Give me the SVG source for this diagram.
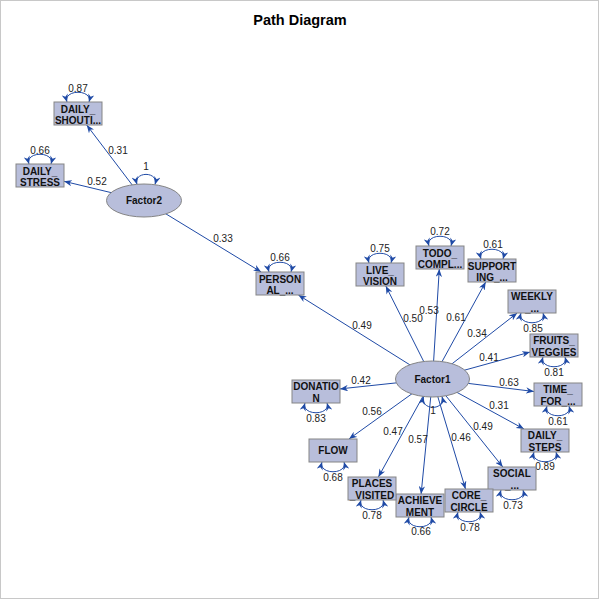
<svg xmlns="http://www.w3.org/2000/svg" width="600" height="600" viewBox="0 0 600 600">
<style>
.bg{fill:#fff;stroke:#c8c8c8;stroke-width:1}
.box{fill:#b8bedb;stroke:#858585;stroke-width:1}
.ell{fill:#b8bedb;stroke:#858585;stroke-width:1}
.nt{font-family:"Liberation Sans",Arial,sans-serif;font-size:10px;font-weight:bold;fill:#111;text-anchor:middle}
.el{font-family:"Liberation Sans",Arial,sans-serif;font-size:10px;fill:#222;text-anchor:middle}
.edge{fill:none;stroke:#1f4aa6;stroke-width:1;marker-end:url(#ah)}
.loop{fill:none;stroke:#1f4aa6;stroke-width:1;marker-start:url(#ah);marker-end:url(#ah)}
.title{font-family:"Liberation Sans",Arial,sans-serif;font-size:14.5px;font-weight:bold;fill:#000;text-anchor:middle}
</style>
<defs>
<marker id="ah" viewBox="0 0 10 8" refX="10" refY="4" markerWidth="8" markerHeight="6.4" markerUnits="userSpaceOnUse" orient="auto-start-reverse">
<path d="M0,0 L10,4 L0,8 L3,4 z" fill="#1f4aa6"/>
</marker>
</defs>
<rect class="bg" x="0.5" y="0.5" width="598" height="598"/>
<text class="title" x="300" y="25">Path Diagram</text>

<g id="connectors">
<path class="edge" d="M432.5,379 L298.4,295"/>
<path class="edge" d="M432.5,379 L385.8,286"/>
<path class="edge" d="M432.5,379 L439.3,269"/>
<path class="edge" d="M432.5,379 L485.7,282"/>
<path class="edge" d="M432.5,379 L517.2,313"/>
<path class="edge" d="M432.5,379 L530,352.1"/>
<path class="edge" d="M432.5,379 L534,391.5"/>
<path class="edge" d="M432.5,379 L524,429"/>
<path class="edge" d="M432.5,379 L502.8,467"/>
<path class="edge" d="M432.5,379 L465.5,489"/>
<path class="edge" d="M432.5,379 L421.1,494"/>
<path class="edge" d="M432.5,379 L378.4,477"/>
<path class="edge" d="M432.5,379 L349,439"/>
<path class="edge" d="M432.5,379 L340,388.9"/>
<path class="edge" d="M144,200.5 L86.7,125"/>
<path class="edge" d="M144,200.5 L64,181.3"/>
<path class="edge" d="M144,200.5 L261.2,272"/>

<path class="loop" d="M137,184.5 C133,171 159,171 155,184.5"/>
<path class="loop" d="M423.5,396.5 C420,411 446,411 442,396.5"/>

<path class="loop" d="M67,102 C63,89 93,89 89,102"/>
<path class="loop" d="M29,164 C25,151 55,151 51,164"/>
<path class="loop" d="M269,272 C265,259 295,259 291,272"/>
<path class="loop" d="M369,263 C365,250 395,250 391,263"/>
<path class="loop" d="M429,246 C425,233 455,233 451,246"/>
<path class="loop" d="M481,259 C477,246 507,246 503,259"/>
<path class="loop" d="M521,313 C517,326 547,326 543,313"/>
<path class="loop" d="M543,357 C539,370 569,370 565,357"/>
<path class="loop" d="M547,406 C543,419 573,419 569,406"/>
<path class="loop" d="M534,452 C530,465 560,465 556,452"/>
<path class="loop" d="M501,490 C497,503 527,503 523,490"/>
<path class="loop" d="M458,512 C454,525 484,525 480,512"/>
<path class="loop" d="M409,517 C405,530 435,530 431,517"/>
<path class="loop" d="M361,500 C357,513 387,513 383,500"/>
<path class="loop" d="M322,462 C318,475 348,475 344,462"/>
<path class="loop" d="M305,403 C301,416 331,416 327,403"/>

<text class="el" x="118" y="153.5">0.31</text>
<text class="el" x="97" y="184.5">0.52</text>
<text class="el" x="223" y="241.5">0.33</text>
<text class="el" x="362" y="329">0.49</text>
<text class="el" x="413" y="322">0.50</text>
<text class="el" x="429" y="313.5">0.53</text>
<text class="el" x="456" y="321">0.61</text>
<text class="el" x="477" y="337">0.34</text>
<text class="el" x="489" y="360.5">0.41</text>
<text class="el" x="361" y="384">0.42</text>
<text class="el" x="509" y="386">0.63</text>
<text class="el" x="499" y="408.5">0.31</text>
<text class="el" x="372" y="415">0.56</text>
<text class="el" x="393" y="435">0.47</text>
<text class="el" x="418" y="443">0.57</text>
<text class="el" x="461" y="441">0.46</text>
<text class="el" x="483" y="430">0.49</text>

<text class="el" x="146" y="170">1</text>
<text class="el" x="433" y="414">1</text>
<text class="el" x="78" y="91.5">0.87</text>
<text class="el" x="40" y="153.5">0.66</text>
<text class="el" x="280" y="261">0.66</text>
<text class="el" x="380" y="252">0.75</text>
<text class="el" x="440" y="234.5">0.72</text>
<text class="el" x="493" y="248">0.61</text>
<text class="el" x="533" y="331.5">0.85</text>
<text class="el" x="554" y="375.5">0.81</text>
<text class="el" x="558" y="424.5">0.61</text>
<text class="el" x="545" y="470">0.89</text>
<text class="el" x="513" y="509">0.73</text>
<text class="el" x="470" y="531">0.78</text>
<text class="el" x="421" y="535">0.66</text>
<text class="el" x="372" y="518.5">0.78</text>
<text class="el" x="333" y="481">0.68</text>
<text class="el" x="316" y="422">0.83</text>
</g>

<g id="Factor2">
<ellipse class="ell" cx="144" cy="200.5" rx="37.5" ry="16.5"/>
<text class="nt" x="144" y="204">Factor2</text>
</g>
<g id="Factor1">
<ellipse class="ell" cx="432.5" cy="379" rx="37" ry="18"/>
<text class="nt" x="432.5" y="382.5">Factor1</text>
</g>

<g id="DAILY_SHOUTING">
<rect class="box" x="54" y="102" width="48" height="23"/>
<text class="nt" x="78" y="112.5">DAILY_</text>
<text class="nt" x="78" y="124">SHOUTI...</text>
</g>
<g id="DAILY_STRESS">
<rect class="box" x="16" y="164" width="48" height="23"/>
<text class="nt" x="40" y="174.5">DAILY_</text>
<text class="nt" x="40" y="186">STRESS</text>
</g>
<g id="PERSONAL">
<rect class="box" x="256" y="272" width="48" height="23"/>
<text class="nt" x="280" y="282.5">PERSON</text>
<text class="nt" x="280" y="294">AL_...</text>
</g>
<g id="LIVE_VISION">
<rect class="box" x="356" y="263" width="48" height="23"/>
<text class="nt" x="380" y="273.5">LIVE_</text>
<text class="nt" x="380" y="285">VISION</text>
</g>
<g id="TODO_COMPL">
<rect class="box" x="416" y="246" width="48" height="23"/>
<text class="nt" x="440" y="256.5">TODO_</text>
<text class="nt" x="440" y="268">COMPL...</text>
</g>
<g id="SUPPORTING">
<rect class="box" x="468" y="259" width="48" height="23"/>
<text class="nt" x="492" y="269.5">SUPPORT</text>
<text class="nt" x="492" y="281">ING_...</text>
</g>
<g id="WEEKLY">
<rect class="box" x="508" y="290" width="48" height="23"/>
<text class="nt" x="532" y="300">WEEKLY</text>
<text class="nt" x="532" y="311.5">_...</text>
</g>
<g id="FRUITS_VEGGIES">
<rect class="box" x="530" y="334" width="48" height="23"/>
<text class="nt" x="554" y="344">FRUITS_</text>
<text class="nt" x="554" y="355.5">VEGGIES</text>
</g>
<g id="TIME_FOR">
<rect class="box" x="534" y="383" width="48" height="23"/>
<text class="nt" x="558" y="393">TIME_</text>
<text class="nt" x="558" y="404.5">FOR_...</text>
</g>
<g id="DAILY_STEPS">
<rect class="box" x="521" y="429" width="48" height="23"/>
<text class="nt" x="545" y="439">DAILY_</text>
<text class="nt" x="545" y="450.5">STEPS</text>
</g>
<g id="SOCIAL">
<rect class="box" x="488" y="467" width="48" height="23"/>
<text class="nt" x="512" y="477">SOCIAL</text>
<text class="nt" x="512" y="488.5">_...</text>
</g>
<g id="CORE_CIRCLE">
<rect class="box" x="445" y="489" width="48" height="23"/>
<text class="nt" x="469" y="499">CORE_</text>
<text class="nt" x="469" y="510.5">CIRCLE</text>
</g>
<g id="ACHIEVEMENT">
<rect class="box" x="396" y="494" width="48" height="23"/>
<text class="nt" x="420" y="504">ACHIEVE</text>
<text class="nt" x="420" y="515.5">MENT</text>
</g>
<g id="PLACES_VISITED">
<rect class="box" x="348" y="477" width="48" height="23"/>
<text class="nt" x="372" y="487">PLACES</text>
<text class="nt" x="372" y="498.5">_VISITED</text>
</g>
<g id="FLOW">
<rect class="box" x="309" y="439" width="48" height="23"/>
<text class="nt" x="333" y="454">FLOW</text>
</g>
<g id="DONATION">
<rect class="box" x="292" y="380" width="48" height="23"/>
<text class="nt" x="316" y="390">DONATIO</text>
<text class="nt" x="316" y="401.5">N</text>
</g>
</svg>
